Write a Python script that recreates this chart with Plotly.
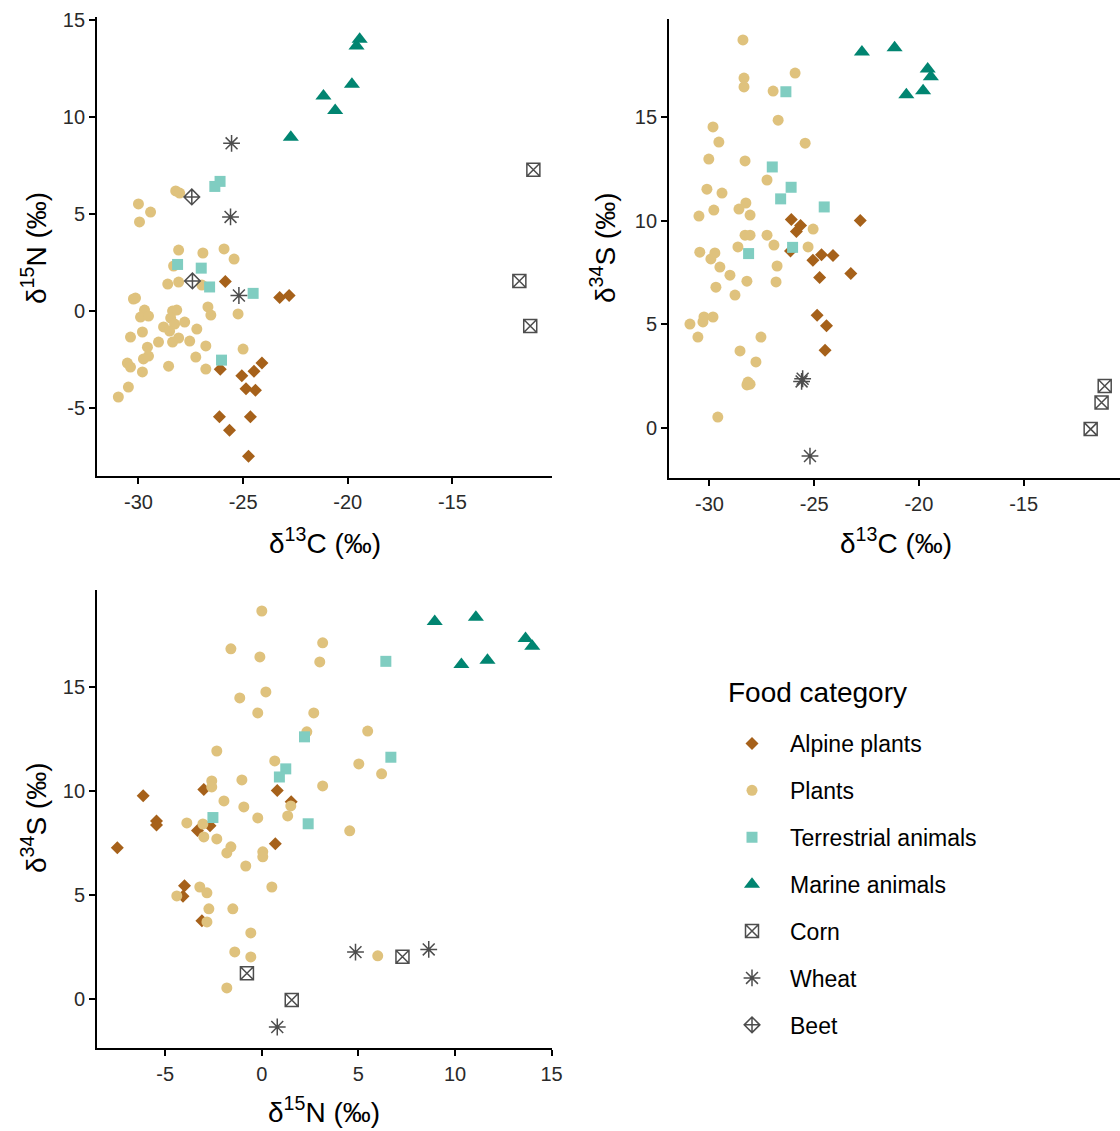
import plotly.graph_objects as go

# ---------------- data ----------------
categories = ["Alpine plants", "Plants", "Terrestrial animals", "Marine animals", "Corn", "Wheat", "Beet"]

# matched samples: d13C, d15N, d34S
alpine_c = [-25.85, -23.25, -22.80, -24.10, -25.06, -24.48, -24.86, -24.41, -26.09, -26.13, -24.65, -25.65, -24.74]
alpine_n = [1.52, 0.70, 0.80, -2.68, -3.33, -3.10, -4.00, -4.08, -3.00, -5.45, -5.45, -6.14, -7.48]
alpine_s = [9.48, 7.46, 10.02, 8.33, 8.10, 3.76, 5.44, 4.94, 10.07, 8.55, 8.36, 9.77, 7.27]

terr_c = [-26.35, -26.10, -28.13, -27.00, -26.60, -24.52, -26.03]
terr_n = [6.42, 6.68, 2.40, 2.21, 1.24, 0.91, -2.53]
terr_s = [16.23, 11.62, 8.42, 12.60, 11.06, 10.67, 8.72]

marine_c = [-22.72, -21.16, -20.60, -19.80, -19.58, -19.43]
marine_n = [8.95, 11.08, 10.33, 11.68, 13.65, 14.00]
marine_s = [18.15, 18.35, 16.08, 16.28, 17.33, 16.95]

corn_c = [-11.13, -11.80, -11.28]
corn_n = [7.28, 1.55, -0.77]
corn_s = [2.03, -0.05, 1.23]

wheat_c = [-25.55, -25.60, -25.20]
wheat_n = [8.64, 4.85, 0.80]
wheat_s = [2.38, 2.25, -1.35]

beet_c = [-27.45, -27.42]
beet_n = [5.88, 1.55]

# plants, read separately in each panel
plants_cn_c = [-30.00, -29.42, -29.95, -28.22, -28.03, -28.08, -26.92, -25.91, -25.43, -28.32,
               -28.60, -28.08, -26.97, -30.24, -30.14, -26.68, -26.54, -25.24, -29.71, -29.90,
               -29.52, -28.37, -28.17, -28.46, -28.27, -28.80, -27.79, -28.51, -28.08, -28.37,
               -27.21, -30.38, -29.81, -29.04, -27.55, -29.57, -26.78, -25.00, -29.52, -29.76,
               -30.53, -30.38, -27.26, -28.56, -29.81, -26.78, -30.48, -30.96]
plants_cn_n = [5.52, 5.10, 4.59, 6.19, 6.08, 3.14, 2.99, 3.20, 2.68, 2.32,
               1.39, 1.49, 1.34, 0.62, 0.67, 0.21, -0.21, -0.15, 0.05, -0.31,
               -0.26, 0.00, 0.05, -0.36, -0.67, -0.82, -0.57, -1.03, -1.39, -1.60,
               -0.93, -1.34, -1.08, -1.60, -1.55, -1.86, -1.80, -1.96, -2.32, -2.47,
               -2.68, -2.89, -2.37, -2.84, -3.14, -2.99, -3.92, -4.43]

plants_cs_c = [-28.40, -25.91, -28.35, -28.35, -26.96, -26.72, -29.83, -29.55, -25.43, -30.03,
               -28.30, -27.25, -30.12, -29.40, -28.26, -28.59, -29.79, -30.50, -28.06, -28.30,
               -28.06, -27.25, -25.05, -28.64, -26.92, -25.29, -30.46, -29.74, -29.93, -29.50,
               -29.02, -26.77, -28.21, -26.82, -29.69, -28.78, -30.26, -29.83, -30.31, -30.93,
               -30.55, -27.54, -28.54, -27.78, -28.16, -28.06, -28.21, -29.60]
plants_cs_s = [18.73, 17.13, 16.89, 16.46, 16.26, 14.86, 14.53, 13.80, 13.75, 12.98,
               12.89, 11.97, 11.53, 11.34, 10.86, 10.57, 10.52, 10.23, 10.28, 9.31,
               9.31, 9.31, 9.60, 8.74, 8.83, 8.74, 8.49, 8.45, 8.16, 7.77,
               7.38, 7.82, 7.09, 7.05, 6.80, 6.42, 5.36, 5.36, 5.12, 5.02,
               4.39, 4.39, 3.72, 3.19, 2.22, 2.12, 2.08, 0.53]

plants_ns_n = [0.00, -1.60, -0.10, 3.15, 3.00, -1.14, 0.21, -0.21, 2.69, 2.33,
               5.48, -2.33, 0.67, 5.02, 6.20, -2.59, -2.59, -1.03, 3.15, -1.96,
               -0.93, 1.50, 1.34, -0.21, -3.88, -3.05, 4.55, -3.00, -2.33, -1.60,
               -1.81, 0.05, 0.05, -0.83, -3.21, -2.84, -4.40, 0.52, -2.74, -1.50,
               -2.84, -0.57, -1.40, -0.57, 6.00, -1.81]
plants_ns_s = [18.65, 16.83, 16.44, 17.12, 16.20, 14.47, 14.76, 13.75, 13.75, 12.84,
               12.88, 11.92, 11.44, 11.30, 10.82, 10.48, 10.19, 10.53, 10.24, 9.52,
               9.23, 9.28, 8.80, 8.70, 8.46, 8.41, 8.08, 7.79, 7.69, 7.31,
               7.02, 7.07, 6.83, 6.39, 5.38, 5.10, 4.95, 5.38, 4.33, 4.33,
               3.70, 3.17, 2.26, 2.02, 2.07, 0.53]

c_ticks = [-30, -25, -20, -15]
c_ticklabels = ["-30", "-25", "-20", "-15"]
n_ticks = [-5, 0, 5, 10, 15]
n_ticklabels = ["-5", "0", "5", "10", "15"]
s_ticks = [0, 5, 10, 15]
s_ticklabels = ["0", "5", "10", "15"]

# ---------------- styles ----------------
GREY = "#4D4D4D"
styles = {
    "Alpine plants": dict(symbol="diamond", size=10, color="#A6611A", line=dict(width=0)),
    "Plants": dict(symbol="circle", size=11, color="#DFC27D", line=dict(width=0)),
    "Terrestrial animals": dict(symbol="square", size=11, color="#80CDC1", line=dict(width=0)),
    "Marine animals": dict(symbol="triangle-up", size=14, color="#018571", line=dict(width=0)),
    "Corn": dict(symbol="square-x-open", size=13, color=GREY, line=dict(width=1.5, color=GREY)),
    "Wheat": dict(symbol="asterisk-open", size=14, color=GREY, line=dict(width=1.5, color=GREY)),
    "Beet": dict(symbol="diamond-cross-open", size=12, color=GREY, line=dict(width=1.5, color=GREY)),
}

panel_data = {
    "Alpine plants": [(alpine_c, alpine_n), (alpine_c, alpine_s), (alpine_n, alpine_s)],
    "Plants": [(plants_cn_c, plants_cn_n), (plants_cs_c, plants_cs_s), (plants_ns_n, plants_ns_s)],
    "Terrestrial animals": [(terr_c, terr_n), (terr_c, terr_s), (terr_n, terr_s)],
    "Marine animals": [(marine_c, marine_n), (marine_c, marine_s), (marine_n, marine_s)],
    "Corn": [(corn_c, corn_n), (corn_c, corn_s), (corn_n, corn_s)],
    "Wheat": [(wheat_c, wheat_n), (wheat_c, wheat_s), (wheat_n, wheat_s)],
    "Beet": [(beet_c, beet_n), None, None],
}

axes = [("x", "y"), ("x2", "y2"), ("x3", "y3")]

fig = go.Figure()
for cat in categories:
    for i, pair in enumerate(panel_data[cat]):
        if pair is None:
            continue
        xs, ys = pair
        fig.add_trace(go.Scatter(
            x=xs, y=ys, mode="markers", name=cat,
            legendgroup=cat, showlegend=(i == 0),
            marker=styles[cat],
            xaxis=axes[i][0], yaxis=axes[i][1],
        ))

W, H = 1120, 1131
FONT = "Liberation Sans, Arial, sans-serif"
TICKCOL = "#2a2a2a"

def ax(domain, rng, tickvals, ticktext, anchor, **kw):
    d = dict(domain=domain, range=rng, tickvals=tickvals, ticktext=ticktext, anchor=anchor,
             showline=True, linecolor="black", linewidth=1.8,
             ticks="outside", ticklen=6, tickwidth=1.5, tickcolor="black",
             showgrid=False, zeroline=False, automargin=False,
             tickfont=dict(size=20, color=TICKCOL, family=FONT))
    d.update(kw)
    return d

fig.update_layout(
    width=W, height=H, autosize=False,
    margin=dict(l=0, r=0, t=0, b=0, pad=0),
    paper_bgcolor="white", plot_bgcolor="white",
    font=dict(family=FONT, color="black"),
    xaxis=ax([97 / W, 552 / W], [-31.98, -10.24], c_ticks, c_ticklabels, "y", ticklabelstandoff=1),
    yaxis=ax([1 - 476 / H, 1 - 17 / H], [-8.5, 15.15], n_ticks, n_ticklabels, "x"),
    xaxis2=ax([669 / W, 1.0], [-31.93, -10.4], c_ticks, c_ticklabels, "y2", ticklabelstandoff=1),
    yaxis2=ax([1 - 478 / H, 1 - 19 / H], [-2.41, 19.74], s_ticks, s_ticklabels, "x2"),
    xaxis3=ax([97 / W, 552 / W], [-8.53, 15.02], n_ticks, n_ticklabels, "y3", ticklabelstandoff=1),
    yaxis3=ax([1 - 1048 / H, 1 - 590 / H], [-2.36, 19.66], s_ticks, s_ticklabels, "x3"),
    legend=dict(
        x=714 / W, y=1 - 722 / H, xanchor="left", yanchor="top",
        font=dict(size=23, color="black", family=FONT),
        traceorder="grouped", tracegroupgap=14, itemwidth=66,
        bgcolor="rgba(0,0,0,0)", borderwidth=0,
    ),
)

def text_ann(text, px, py, angle=0, size=28, xanchor="center"):
    return dict(text=text, x=px / W, y=1 - py / H, xref="paper", yref="paper",
                showarrow=False, textangle=angle, xanchor=xanchor, yanchor="middle",
                font=dict(size=size, color="black", family=FONT))

fig.update_layout(annotations=[
    text_ann("δ<sup>13</sup>C (‰)", 325, 541),
    text_ann("δ<sup>13</sup>C (‰)", 896, 541),
    text_ann("δ<sup>15</sup>N (‰)", 324, 1110),
    text_ann("δ<sup>15</sup>N (‰)", 34, 248, -90),
    text_ann("δ<sup>34</sup>S (‰)", 603, 248, -90),
    text_ann("δ<sup>34</sup>S (‰)", 34, 818, -90),
    text_ann("Food category", 726, 692, size=28, xanchor="left"),
])

post = (
    "document.documentElement.style.margin='0';"
    "document.documentElement.style.padding='0';"
    "document.documentElement.style.overflow='hidden';"
    "document.body.style.margin='0';"
    "document.body.style.padding='0';"
    "document.body.style.overflow='hidden';"
    "var gd=document.getElementById('{plot_id}');"
    "Plotly.relayout(gd,{width:1120,height:1131});"
)

fig.write_html("out.html", config={"responsive": False, "displayModeBar": False}, post_script=post)
